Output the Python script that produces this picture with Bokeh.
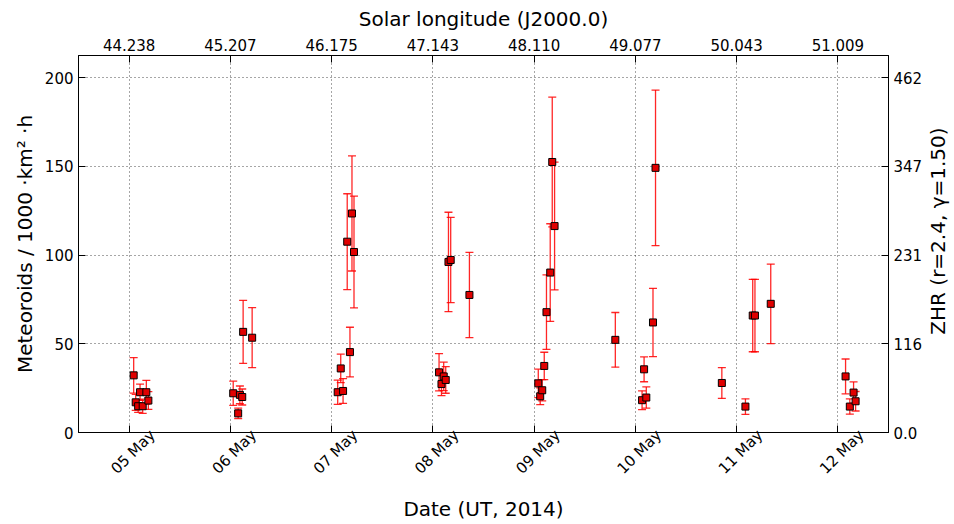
from math import pi

from bokeh.core.properties import value
from bokeh.embed import file_html
from bokeh.layouts import row
from bokeh.models import (ColumnDataSource, FixedTicker, LinearAxis, Range1d,
                          TeeHead, Whisker)
from bokeh.plotting import figure
from bokeh.resources import INLINE

# Observation times (day of May 2014, UT), fluxes and their 1-sigma errors
day = [5.045, 5.065, 5.089, 5.108, 5.134, 5.170, 5.190,
       6.028, 6.077, 6.094, 6.117, 6.126, 6.215,
       7.060, 7.090, 7.113, 7.154, 7.181, 7.201, 7.221,
       8.061, 8.085, 8.107, 8.127, 8.154, 8.176, 8.361,
       9.041, 9.060, 9.080, 9.100, 9.122, 9.159, 9.179, 9.202, 9.802,
       10.066, 10.086, 10.108, 10.174, 10.199,
       10.854, 11.087, 11.159, 11.181, 11.337,
       12.076, 12.118, 12.155, 12.175]
flux = [32.2, 17.0, 14.8, 22.7, 14.8, 22.7, 18.0,
        22.1, 10.8, 21.2, 20.0, 56.7, 53.4,
        22.7, 36.1, 23.4, 107.5, 45.3, 123.4, 101.7,
        33.9, 27.3, 31.6, 29.6, 96.1, 97.2, 77.5,
        27.7, 20.4, 23.8, 37.5, 67.8, 90.1, 152.4, 116.3, 52.2,
        18.2, 35.6, 19.7, 62.0, 149.1,
        27.9, 14.6, 65.9, 65.9, 72.5,
        31.6, 14.6, 22.5, 17.6]
flux_err = [10.0, 4.5, 3.5, 4.6, 4.0, 6.7, 5.0,
            6.8, 2.9, 5.0, 4.5, 17.7, 16.9,
            6.8, 8.0, 7.0, 27.0, 14.0, 32.4, 31.5,
            10.5, 6.5, 8.0, 7.5, 28.0, 24.0, 24.0,
            8.0, 4.7, 6.0, 7.7, 21.0, 27.5, 36.5, 36.0, 15.4,
            5.3, 7.0, 6.0, 19.2, 43.8,
            8.7, 4.4, 20.4, 20.4, 22.4,
            9.8, 4.3, 6.0, 5.5]

# Axis tick positions and labels
date_ticks = [5, 6, 7, 8, 9, 10, 11, 12]
date_labels = ["05 May", "06 May", "07 May", "08 May",
               "09 May", "10 May", "11 May", "12 May"]
sollong_labels = ["44.238", "45.207", "46.175", "47.143",
                  "48.110", "49.077", "50.043", "51.009"]
flux_ticks = [0, 50, 100, 150, 200]
zhr_labels = ["0.0", "116", "231", "347", "462"]

FONT = "DejaVu Sans"
X0, X1 = 4.5, 12.5
Y0, Y1 = 0, 212.4
# rotated date labels are right-anchored by Bokeh; shift them so that each
# one sits centred under its tick
LABEL_SHIFT = 0.23

W_TOTAL, H_TOTAL = 954, 524
W_TITLE = 29          # strip on the right holding the ZHR axis title
BORDER_TOP, BORDER_BOTTOM = 55, 91

src = ColumnDataSource(dict(
    x=day, y=flux,
    lo=[f - e for f, e in zip(flux, flux_err)],
    hi=[f + e for f, e in zip(flux, flux_err)],
))

p = figure(width=W_TOTAL - W_TITLE, height=H_TOTAL, output_backend="svg",
           toolbar_location=None,
           x_range=Range1d(X0, X1), y_range=Range1d(Y0, Y1),
           min_border_left=78, min_border_right=37,
           min_border_top=BORDER_TOP, min_border_bottom=BORDER_BOTTOM)
p.background_fill_color = "white"
p.border_fill_color = "white"
p.outline_line_color = "black"
p.outline_line_width = 1

p.extra_x_ranges = {"sol": Range1d(X0, X1),
                    "lbl": Range1d(X0 - LABEL_SHIFT, X1 - LABEL_SHIFT)}
p.extra_y_ranges = {"zhr": Range1d(Y0, Y1)}


def style_axis(ax):
    ax.axis_line_color = "black"
    ax.major_tick_in = 7
    ax.major_tick_out = 0
    ax.major_tick_line_color = "black"
    ax.major_tick_line_width = 1
    ax.minor_tick_line_color = None
    ax.major_label_text_font = FONT
    ax.major_label_text_font_size = "15px"
    ax.major_label_text_color = "black"
    ax.axis_label_text_font = FONT
    ax.axis_label_text_font_size = "20px"
    ax.axis_label_text_font_style = "normal"
    ax.axis_label_text_color = "black"


# bottom frame axis: tick marks only
bottom = p.xaxis[0]
bottom.ticker = FixedTicker(ticks=date_ticks)
style_axis(bottom)
bottom.major_label_overrides = {t: "" for t in date_ticks}
bottom.major_label_text_font_size = "1px"
bottom.major_label_standoff = 0

# second bottom axis carrying the rotated date labels and the title
dates = LinearAxis(x_range_name="lbl", ticker=FixedTicker(ticks=date_ticks),
                   major_label_overrides=dict(zip(date_ticks, date_labels)),
                   axis_label="Date (UT, 2014)")
style_axis(dates)
dates.axis_line_color = None
dates.major_tick_in = 0
dates.major_tick_line_color = None
dates.major_label_orientation = pi / 4
dates.major_label_standoff = 0
dates.axis_label_standoff = 10
p.add_layout(dates, "below")

left = p.yaxis[0]
left.ticker = FixedTicker(ticks=flux_ticks)
left.axis_label = "Meteoroids / 1000 ·km² ·h"
style_axis(left)

top = LinearAxis(x_range_name="sol", ticker=FixedTicker(ticks=date_ticks),
                 major_label_overrides=dict(zip(date_ticks, sollong_labels)),
                 axis_label="Solar longitude (J2000.0)")
style_axis(top)
p.add_layout(top, "above")

# right frame axis: ZHR scale
right = LinearAxis(y_range_name="zhr", ticker=FixedTicker(ticks=flux_ticks),
                   major_label_overrides=dict(zip(flux_ticks, zhr_labels)))
style_axis(right)
p.add_layout(right, "right")

for g in (p.xgrid[0], p.ygrid[0]):
    g.grid_line_color = "black"
    g.grid_line_alpha = 0.7
    g.grid_line_dash = "1 3"
    g.grid_line_width = 1
p.xgrid[0].ticker = FixedTicker(ticks=date_ticks)
p.ygrid[0].ticker = FixedTicker(ticks=flux_ticks)

# error bars with caps
whisk = Whisker(base="x", lower="lo", upper="hi", source=src,
                line_color="red", line_alpha=0.85, line_width=1.3,
                upper_head=TeeHead(size=8, line_color="red", line_alpha=0.85,
                                   line_width=1.3),
                lower_head=TeeHead(size=8, line_color="red", line_alpha=0.85,
                                   line_width=1.3))
p.add_layout(whisk)

p.scatter("x", "y", source=src, marker="square", size=7,
          fill_color="#e00000", line_color="black", line_width=1)

# narrow strip with the ZHR axis title, reading bottom to top and centred
# on the plot frame; its ranges are in pixels of the strip
q = figure(width=W_TITLE, height=H_TOTAL, output_backend="svg",
           toolbar_location=None,
           x_range=Range1d(0, W_TITLE), y_range=Range1d(0, H_TOTAL),
           min_border=0)
q.axis.visible = False
q.grid.visible = False
q.outline_line_color = None
q.background_fill_color = "white"
q.border_fill_color = "white"
frame_mid = BORDER_BOTTOM + (H_TOTAL - BORDER_TOP - BORDER_BOTTOM) / 2
q.text(x=[W_TITLE / 2 - 2], y=[frame_mid], text=["ZHR (r=2.4, γ=1.50)"],
       angle=pi / 2, text_align="center", text_baseline="middle",
       text_font=value(FONT), text_font_size="20px", text_color="black")

layout = row(p, q, spacing=0)
open("out.html", "w").write(file_html(layout, INLINE))
